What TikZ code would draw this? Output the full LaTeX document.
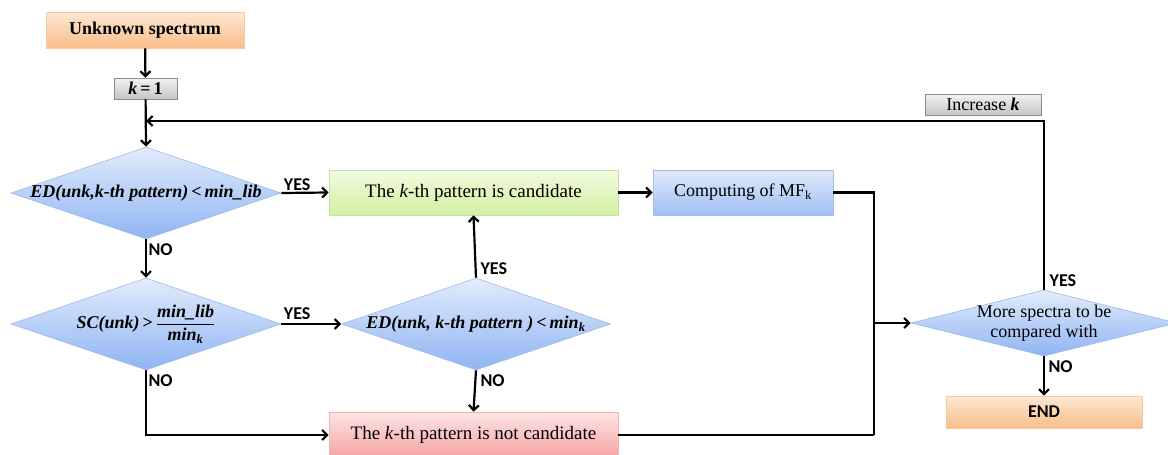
\documentclass[tikz,border=0pt]{standalone}
\usepackage{fontspec}
\usepackage{amsmath}
\setmainfont{Liberation Serif}
\newfontfamily\labfont{Carlito}
\usetikzlibrary{arrows.meta,shapes.geometric}

\definecolor{diaTop}{HTML}{E2ECFC}
\definecolor{diaBot}{HTML}{8FB4F3}
\definecolor{diaLine}{HTML}{9DBBE6}
\definecolor{grnTop}{HTML}{F2FBE0}
\definecolor{grnBot}{HTML}{D2EFA0}
\definecolor{grnLine}{HTML}{C6E2A2}
\definecolor{bluTop}{HTML}{DFEAFB}
\definecolor{bluBot}{HTML}{A0BFF4}
\definecolor{bluLine}{HTML}{A4BDE4}
\definecolor{pnkTop}{HTML}{FDE5E5}
\definecolor{pnkBot}{HTML}{F6A2A2}
\definecolor{pnkLine}{HTML}{F1B4B4}
\definecolor{orgTop}{HTML}{FDE7D4}
\definecolor{orgBot}{HTML}{F9BE8A}
\definecolor{orgLine}{HTML}{F4C9A3}
\definecolor{gryTop}{HTML}{F3F3F3}
\definecolor{gryBot}{HTML}{C4C4C4}
\definecolor{gryLine}{HTML}{8C8C8C}

\tikzset{
  conn/.style={line width=2.2pt, draw=black},
  arr/.style={conn, -{Straight Barb[length=5pt,width=10pt]}},
  lbl/.style={font=\labfont\bfseries\fontsize{18}{20}\selectfont, inner sep=1.5pt},
  txt/.style={font=\fontsize{18}{20}\selectfont},
  bigtxt/.style={font=\fontsize{19}{21}\selectfont},
  boxbase/.style={rectangle, line width=0.6pt, inner sep=0pt, txt},
  orangebox/.style={boxbase, draw=orgLine, top color=orgTop, bottom color=orgBot},
  graybox/.style={boxbase, draw=gryLine, top color=gryTop, bottom color=gryBot},
  greenbox/.style={boxbase, draw=grnLine, top color=grnTop, bottom color=grnBot, bigtxt},
  bluebox/.style={boxbase, draw=bluLine, top color=bluTop, bottom color=bluBot},
  pinkbox/.style={boxbase, draw=pnkLine, top color=pnkTop, bottom color=pnkBot, bigtxt},
  decision/.style={diamond, aspect=2.9, inner sep=0pt, line width=0.6pt,
    draw=diaLine, top color=diaTop, bottom color=diaBot, txt},
}

\begin{document}
\begin{tikzpicture}[x=1pt,y=-1pt]
\useasboundingbox (0,0) rectangle (1168,455);

% process boxes
\node[orangebox, minimum width=198pt, minimum height=36pt] (unk) at (145,30)
  {\textbf{Unknown spectrum}};
\node[graybox, minimum width=63pt, minimum height=21pt] (k1) at (145.5,88.5)
  {\textbf{\textit{k}\,=\,1}};
\node[graybox, minimum width=116pt, minimum height=21pt] (inc) at (983,104.5)
  {Increase \textbf{\textit{k}}};
\node[greenbox, minimum width=289pt, minimum height=45pt] (cand) at (473.5,192.5)
  {The \textit{k}-th pattern is candidate};
\node[bluebox, minimum width=180pt, minimum height=45pt] (mf) at (743,192.5)
  {Computing of MF\textsubscript{k}};
\node[pinkbox, minimum width=289pt, minimum height=46pt] (nc) at (473.5,435)
  {The \textit{k}-th pattern is not candidate};
\node[orangebox, minimum width=196pt, minimum height=32pt] (fin) at (1044,412)
  {\labfont\bfseries END};

% decisions
\node[decision, minimum width=270pt, minimum height=92pt] (d1) at (146,193)
  {\makebox[0pt]{\bfseries\itshape ED(unk,k-th pattern)\upshape\,<\,\itshape min\_lib}};
\node[decision, minimum width=270pt, minimum height=92pt] (d2) at (146,324)
  {\makebox[0pt]{\bfseries\itshape SC(unk)\upshape\,>\,$\dfrac{\text{\bfseries\itshape min\_lib}}{\text{\bfseries\itshape min}_{\text{\bfseries\itshape k}}}$}};
\node[decision, minimum width=269pt, minimum height=92pt] (d3) at (476,324)
  {\makebox[0pt]{\bfseries\itshape ED(unk, k-th pattern )\upshape\,<\,\itshape min$_{\text{\bfseries\itshape k}}$}};
\node[decision, minimum width=266pt, minimum height=66pt] (d4) at (1044,323)
  {\makebox[0pt]{\begin{tabular}{@{}c@{}}More spectra to be\\[0pt] compared with\end{tabular}}};

% junction points
\coordinate (loopin) at (146,121);
\coordinate (jbot) at (874,435);
\coordinate (jmid) at (874,323);

% connectors
\draw[arr] (unk) -- (k1);
\draw[arr] (k1) -- (d1.north);
\draw[arr] (d4.north) |- (loopin);
\draw[arr] (d1.east) -- node[lbl, pos=0, anchor=south west] {YES} (cand.west);
\draw[arr] (d1.south) -- node[lbl, pos=0, anchor=north west, yshift=-2pt] {NO} (d2.north);
\draw[arr] (d2.east) -- node[lbl, pos=0, anchor=south west, yshift=2pt] {YES} (d3.west);
\draw[arr] (d2.south) |- node[lbl, pos=0, anchor=north west, yshift=-2pt] {NO} (nc.west);
\draw[arr] (d3.north) -- node[lbl, pos=0, anchor=south west, xshift=2pt] {YES} (cand.south);
\draw[arr] (d3.south) -- node[lbl, pos=0, anchor=north west, xshift=2pt, yshift=-2pt] {NO} (nc.north);
\draw[arr] (cand.east) -- (mf.west);
\draw[conn] (mf.east) -| (jbot);
\draw[conn] (nc.east) -- (jbot);
\draw[arr] (jmid) -- (d4.west);
\draw[arr] (d4.south) -- node[lbl, pos=0, anchor=north west, xshift=2pt, yshift=-2pt] {NO} (fin.north);
\node[lbl, anchor=south west, xshift=4pt, yshift=1pt] (yes4) at (d4.north) {YES};
\end{tikzpicture}
\end{document}
